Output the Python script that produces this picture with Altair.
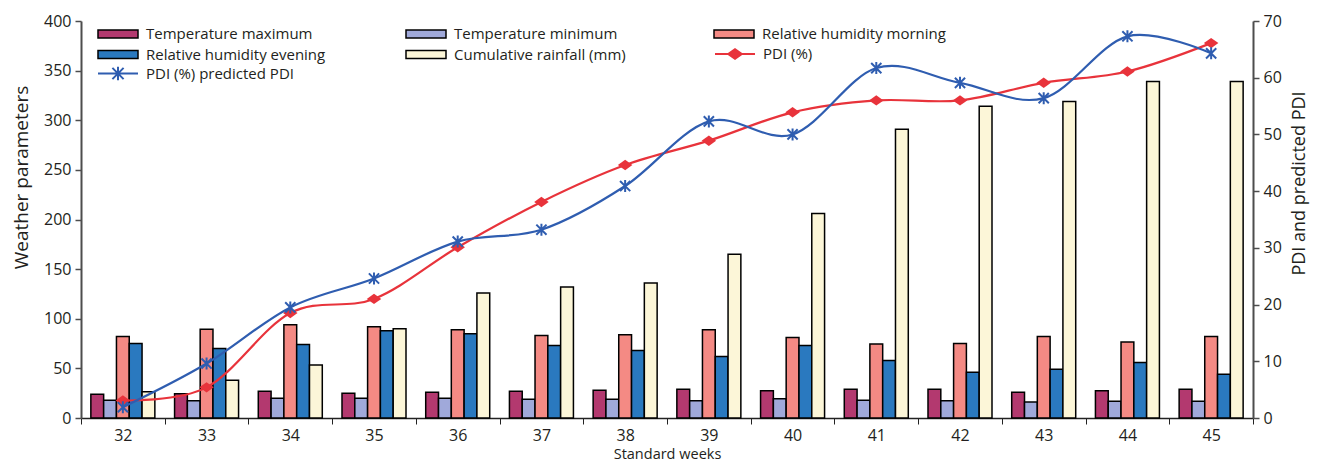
import altair as alt
import pandas as pd

# ---------------- data ----------------
weeks = ["32", "33", "34", "35", "36", "37", "38", "39", "40", "41", "42", "43", "44", "45"]

series_names = [
    "Temperature maximum",
    "Temperature minimum",
    "Relative humidity morning",
    "Relative humidity evening",
    "Cumulative rainfall (mm)",
]
series_colors = ["#B3396F", "#A0A9DA", "#F48A84", "#2A79BF", "#FCF6D8"]

temp_max = [24, 24.5, 27, 25, 26, 27, 28, 29, 27.5, 29, 29, 26, 27.5, 29]
temp_min = [18, 17.5, 20, 20, 20, 19, 19, 17.5, 19.5, 18, 17.5, 16, 17, 17]
rh_morning = [82, 89.5, 94, 92, 89, 83, 84, 89, 81, 74.5, 75, 82, 76.5, 82]
rh_evening = [75, 70, 74, 88, 85, 73, 68, 62, 73, 58, 46, 49, 56, 44]
rainfall = [26.5, 38, 53.5, 90, 126, 132, 136, 165, 206, 291, 314, 319, 339, 339]

pdi = [3.1, 5.4, 18.5, 21.0, 30.1, 38.1, 44.6, 48.9, 53.9, 56.0, 56.0, 59.1, 61.1, 66.1]
pdi_pred = [1.9, 9.6, 19.5, 24.6, 31.1, 33.2, 40.9, 52.3, 50.0, 61.7, 59.1, 56.4, 67.3, 64.3]

pdi_label = "PDI (%)"
pred_label = "PDI (%) predicted PDI"
red = "#E8333B"
blue = "#2F5DB0"

# ---------------- tables ----------------
series_values = [temp_max, temp_min, rh_morning, rh_evening, rainfall]
bar_rows = []
for name, vals in zip(series_names, series_values):
    for w, v in zip(weeks, vals):
        bar_rows.append({"week": w, "series": name, "value": v})
bars_df = pd.DataFrame(bar_rows)

lines_df = pd.DataFrame({
    "week": weeks,
    "pdi": pdi,
    "pred": pdi_pred,
    "pdi_name": [pdi_label] * len(weeks),
    "pred_name": [pred_label] * len(weeks),
})

FONT = "Open Sans"
TXT = "#231F20"
AX = "#4D4D4D"

BAR_SYM = "M-2.5,-0.5H2.5V0.5H-2.5Z"
RED_SYM = "M-2.5,0H2.5M-0.85,0L0,-0.6L0.85,0L0,0.6Z"
BLUE_SYM = "M-2.5,0H2.5M-0.7,-0.7L0.7,0.7M-0.7,0.7L0.7,-0.7M0,-0.85L0,0.85"
DIAMOND = "M-1,0L0,-0.72L1,0L0,0.72Z"
ASTER = "M-0.85,-0.85L0.85,0.85M-0.85,0.85L0.85,-0.85M0,-1L0,1"

x_axis = alt.Axis(
    title="Standard weeks", labelAngle=0, tickBand="extent", tickSize=6,
    labelPadding=3, labelFontSize=16, labelColor=TXT, domainColor="#222222",
    domainWidth=1.5, tickColor="#222222", titleFontSize=14.5, titleFontWeight="normal",
    titleColor=TXT, titleY=36.5, titleBaseline="middle",
)
x_enc = alt.X("week:N", sort=weeks,
              scale=alt.Scale(paddingInner=0, paddingOuter=0), axis=x_axis)

common_legend = dict(
    title=None, orient="none", padding=0, symbolSize=256, labelOffset=19,
    labelFontSize=15, labelColor=TXT, labelFont=FONT, labelLimit=400,
    direction="horizontal",
)

bars = alt.Chart(bars_df).mark_bar(stroke="black", strokeWidth=1.5).encode(
    x=x_enc,
    xOffset=alt.XOffset("series:N", sort=series_names,
                        scale=alt.Scale(paddingInner=0, paddingOuter=0.77)),
    y=alt.Y("value:Q", scale=alt.Scale(domain=[0, 400], nice=False),
            axis=alt.Axis(title="Weather parameters", values=list(range(0, 401, 50)),
                          tickSize=6, labelPadding=4, labelFontSize=16, labelColor=TXT,
                          domainColor=AX, domainWidth=2, tickColor=AX, tickWidth=1.5,
                          grid=False, titleFontSize=19, titleFontWeight="normal",
                          titleColor=TXT, titleAngle=270, titleX=-60, titleY=156,
                          titleAlign="center", titleBaseline="middle")),
    color=alt.Color("series:N", sort=series_names,
                    scale=alt.Scale(domain=series_names, range=series_colors),
                    legend=alt.Legend(legendX=28, legendY=4, columns=3, gridAlign="all",
                                      columnPadding=73, rowPadding=3.5,
                                      symbolType=BAR_SYM, symbolStrokeColor="black",
                                      symbolStrokeWidth=1.5, **common_legend)),
)

right_axis = alt.Axis(title="PDI and predicted PDI", orient="right",
                      values=list(range(0, 71, 10)), tickSize=6, labelPadding=4,
                      labelFontSize=16, labelColor=TXT, domainColor=AX, domainWidth=2,
                      tickColor=AX, tickWidth=1.5, grid=False, titleFontSize=18,
                      titleFontWeight="normal", titleColor=TXT, titleAngle=270,
                      titleX=46, titleY=162, titleAlign="center", titleBaseline="middle")
y_right = alt.Y("pdi:Q", scale=alt.Scale(domain=[0, 70], nice=False), axis=right_axis)
y_right2 = alt.Y("pred:Q", scale=alt.Scale(domain=[0, 70], nice=False), axis=right_axis)

red_color = alt.Color("pdi_name:N", scale=alt.Scale(domain=[pdi_label], range=[red]),
                      legend=alt.Legend(legendX=645, legendY=24, symbolType=RED_SYM,
                                        symbolStrokeWidth=2, symbolFillColor=red,
                                        symbolStrokeColor=red, **common_legend))
blue_color = alt.Color("pred_name:N", scale=alt.Scale(domain=[pred_label], range=[blue]),
                       legend=alt.Legend(legendX=28, legendY=43.5, symbolType=BLUE_SYM,
                                         symbolStrokeWidth=2, symbolFillColor="transparent",
                                         symbolStrokeColor=blue, **common_legend))

base = alt.Chart(lines_df)
red_line = base.mark_line(interpolate="cardinal", strokeWidth=2.2).encode(
    x=alt.X("week:N", sort=weeks), y=y_right, color=red_color)
red_pts = base.mark_point(shape=DIAMOND, size=210, filled=True, opacity=1).encode(
    x=alt.X("week:N", sort=weeks), y=y_right, color=red_color)
blue_line = base.mark_line(interpolate="cardinal", strokeWidth=2.2).encode(
    x=alt.X("week:N", sort=weeks), y=y_right2, color=blue_color)
blue_pts = base.mark_point(shape=ASTER, size=144, filled=False, strokeWidth=2,
                           opacity=1).encode(
    x=alt.X("week:N", sort=weeks), y=y_right2, color=blue_color)

red_layer = alt.layer(red_line, red_pts)
blue_layer = alt.layer(blue_line, blue_pts)
lines = alt.layer(red_layer, blue_layer).resolve_scale(color="independent")

chart = alt.layer(bars, lines).resolve_scale(
    y="independent", color="independent"
).properties(
    width=1172, height=397,
    padding={"left": 73, "top": 13, "right": 59, "bottom": 47},
    autosize=alt.AutoSizeParams(type="none"),
).configure(font=FONT).configure_view(strokeWidth=0)

chart.save("out.html", embed_options={"renderer": "svg", "actions": False})
